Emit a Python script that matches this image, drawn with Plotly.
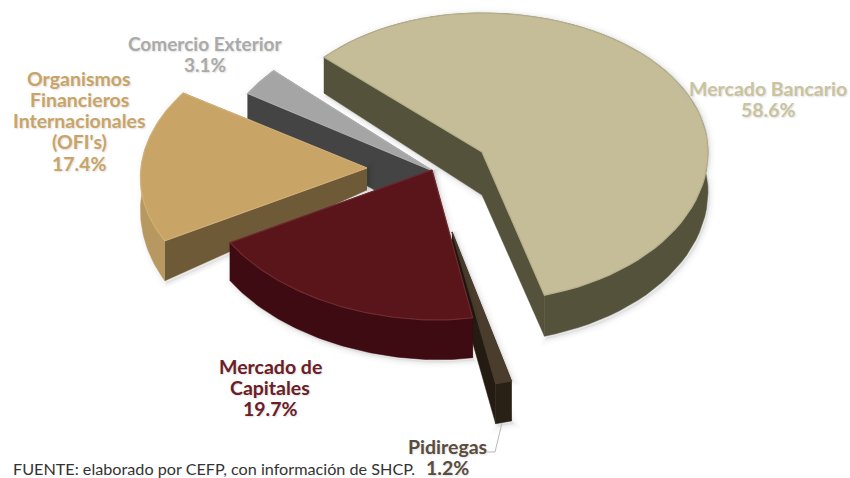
import numpy as np
import plotly.graph_objects as go

categories = ["Mercado Bancario", "Pidiregas", "Mercado de Capitales",
              "Organismos Financieros Internacionales (OFI's)", "Comercio Exterior"]
values = [58.6, 1.2, 19.7, 17.4, 3.1]

label_lines = [["Mercado Bancario"], ["Pidiregas"], ["Mercado de", "Capitales"],
               ["Organismos", "Financieros", "Internacionales", "(OFI's)"], ["Comercio Exterior"]]

# presentation: perspective geometry for each exploded slice, in canvas pixels
START_ANGLE = -47
APEX_X = [482, 452, 432, 367, 433]
APEX_Y = [152, 232, 170, 168, 171]
RX_LEFT = [216, 215, 235, 226, 218]
RX_RIGHT = [226, 215, 200, 226, 218]
RY_FAR = [139, 150, 150, 142, 147]
RY_NEAR = [149, 155, 150, 142, 147]
SHEAR_X = [0, 0, 0, -0.11, 0]
SHEAR_Y = [0, 0, 0.02, 0, 0]
DEPTH_IN = [43, 38, 36, 22, 52]
DEPTH_A = [36, 40, 40, 40, 25]
DEPTH_B = [41, 40, 38, 22, 25]
TOP_COL = ["#C5BD98", "#4A3D2D", "#5A151B", "#C9A467", "#A5A5A5"]
EDGE_COL = ["#B5AE8A", "#4A3D2D", "#6E2A30", "#D2AF76", "#B0B0B0"]
WALL_COL = ["#55523C", "#241C12", "#3A0A10", "#6F5A38", "#444444"]
RIM_COL = ["#55523C", "#2A2116", "#3D0B11", "#B69860", "#444444"]
TEXT_COL = ["#C9C3A0", "#5A4D3E", "#6A2026", "#C9A467", "#AAAAAA"]
LABEL_X = [768, 447, 270, 79, 205]
LABEL_Y = [88, 446, 366, 78, 43]
LABEL_SIZE = [19.5, 19.5, 19.5, 19.5, 19]
LINE_GAP = 21.3
DRAW_ORDER = [0, 4, 3, 1, 2]
FONT = "Lato"

fig = go.Figure()
edges = np.concatenate([[0], np.cumsum(values)]) / sum(values) * 360 + START_ANGLE


def arc(i, n=70):
    th = np.radians(np.linspace(edges[i], edges[i + 1], n))
    s, c = np.sin(th), np.cos(th)
    dx = s * np.where(s < 0, RX_LEFT[i], RX_RIGHT[i])
    dy = -c * np.where(c > 0, RY_FAR[i], RY_NEAR[i])
    return (APEX_X[i] + dx + SHEAR_X[i] * dy,
            APEX_Y[i] + dy + SHEAR_Y[i] * dx)


def poly(x, y, fill, line=None, width=0, name=""):
    fig.add_trace(go.Scatter(
        x=list(x), y=list(y), mode="lines", fill="toself", fillcolor=fill,
        line=dict(color=line or fill, width=width), hoverinfo="skip",
        name=name, showlegend=False))


for i in DRAW_ORDER:
    ax, ay = arc(i)
    px, py = APEX_X[i], APEX_Y[i]
    di = DEPTH_IN[i]
    depth = np.linspace(DEPTH_A[i], DEPTH_B[i], len(ax))
    low = ay + depth
    # soft shadow
    for w, a in ((12, .012), (7, .02), (3, .03)):
        sx = [px] + list(ax) + list(ax[::-1]) + [px, px]
        sy = [py + di + 3] + list(low + 3) + list(ay[::-1]) + [py, py + di + 3]
        poly(np.array(sx) + 2, sy, f"rgba(0,0,0,{a})", f"rgba(0,0,0,{a})", w, categories[i] + " shadow")
    # cut walls
    poly([px, ax[0], ax[0], px], [py, ay[0], low[0], py + di], WALL_COL[i], WALL_COL[i], 0.5, categories[i] + " wall")
    poly([px, ax[-1], ax[-1], px], [py, ay[-1], low[-1], py + di], WALL_COL[i], WALL_COL[i], 0.5, categories[i] + " wall")
    # outer rim
    poly(list(ax) + list(ax[::-1]), list(ay) + list(low[::-1]), RIM_COL[i], RIM_COL[i], 0.5, categories[i] + " rim")
    # top face
    poly([px] + list(ax) + [px], [py] + list(ay) + [py], TOP_COL[i], EDGE_COL[i], 1.2, categories[i])

# leader lines
for xs, ys in (([678, 686, 690], [84, 98, 98]), ([502, 495, 487], [423, 452, 452])):
    fig.add_trace(go.Scatter(x=xs, y=ys, mode="lines", line=dict(color="#B8B8B8", width=1),
                             hoverinfo="skip", showlegend=False))

annotations = []
for i in range(len(values)):
    lines = label_lines[i] + [f"{values[i]:.1f}%"]
    for k, line in enumerate(lines):
        annotations.append(dict(
            x=LABEL_X[i], y=LABEL_Y[i] + k * LINE_GAP, xref="x", yref="y", showarrow=False,
            xanchor="center", yanchor="middle", align="center",
            text=f"<b>{line}</b>",
            font=dict(family=FONT, size=LABEL_SIZE[i], color=TEXT_COL[i], shadow="1px 1px 2px #DDDDDD"),
        ))
annotations.append(dict(
    x=11, y=468, xref="x", yref="y", showarrow=False, xanchor="left", yanchor="middle",
    text="FUENTE: elaborado por CEFP, con información de SHCP.",
    font=dict(family=FONT, size=16.2, color="#333333"),
))

fig.update_layout(
    width=850, height=478, margin=dict(l=0, r=0, t=0, b=0),
    paper_bgcolor="white", plot_bgcolor="white", showlegend=False,
    xaxis=dict(range=[0, 850], visible=False, fixedrange=True),
    yaxis=dict(range=[478, 0], visible=False, fixedrange=True),
    annotations=annotations,
)
fig.write_html("out.html", config=dict(displayModeBar=False),
               post_script="document.body.style.margin='0';document.documentElement.style.overflow='hidden';")
